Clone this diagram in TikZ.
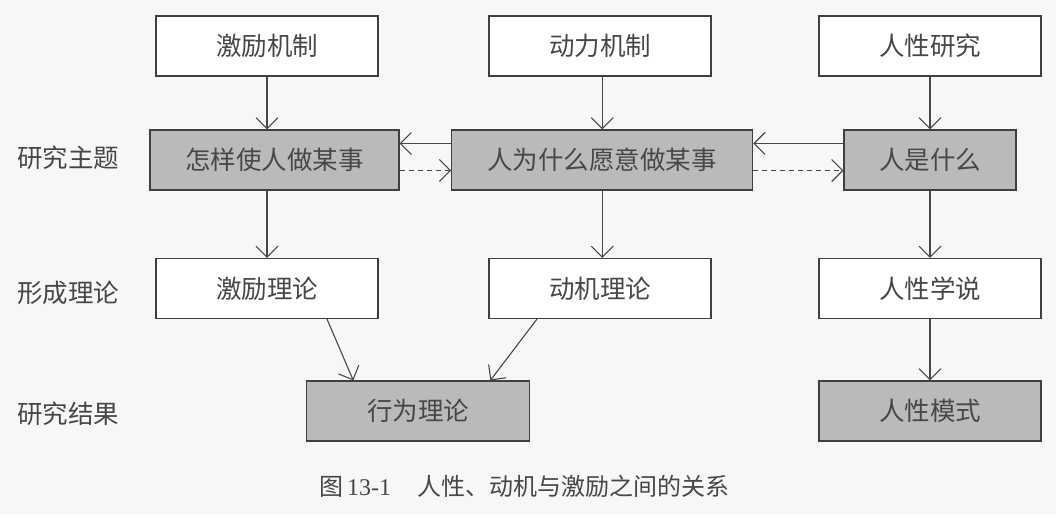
\documentclass[tikz,border=0pt]{standalone}
\usepackage{fontspec}
\setmainfont{Liberation Serif}
\newfontfamily\cjk{Noto Sans CJK SC}
\usetikzlibrary{arrows.meta}

\begin{document}
\begin{tikzpicture}[
	x=1pt, y=-1pt,
	box/.style={rectangle, draw=black!75, line width=1.1pt, fill=white, minimum width=222pt, minimum height=60pt, inner sep=0pt, font=\cjk\fontsize{25.5}{28}\selectfont, text=black!72},
	topic/.style={box, fill=black!27},
	rowlabel/.style={font=\cjk\fontsize{25.5}{28}\selectfont, text=black!72},
	arrow/.style={-{Straight Barb[length=11pt,width=22pt]}, line width=1.1pt, draw=black!72},
	hint/.style={arrow, dash pattern=on 5pt off 4pt}
]
\useasboundingbox[fill=black!3] (0,0) rectangle (1056,515);
% top row: mechanisms
\node (incmech) [box] at (267,46) {激励机制};
\node (powmech) [box] at (600,46) {动力机制};
\node (natstudy) [box] at (930,46) {人性研究};
% research topics
\node (howdo) [topic, minimum width=249pt] at (274.5,160) {怎样使人做某事};
\node (whydo) [topic, minimum width=301pt] at (602.2,160) {人为什么愿意做某事};
\node (whatman) [topic, minimum width=172pt] at (930,160) {人是什么};
% theories
\node (inctheo) [box] at (267,288.5) {激励理论};
\node (mottheo) [box] at (600,288.5) {动机理论};
\node (nattheo) [box] at (930,288.5) {人性学说};
% results
\node (behav) [topic, minimum width=223pt] at (418.3,411) {行为理论};
\node (natmode) [topic] at (930,411) {人性模式};
% row labels
\node (lbltopic) [rowlabel] at (68,158) {研究主题};
\node (lbltheo) [rowlabel] at (68,293) {形成理论};
\node (lblres) [rowlabel] at (68,414) {研究结果};
\node (caption) [font=\fontsize{24}{28}\selectfont, text=black!72] at (524,486) {{\cjk 图}\,13-1\hspace{26pt}{\cjk 人性、动机与激励之间的关系}};
% arrows
\draw [arrow] (incmech) -- (incmech |- howdo.north);
\draw [arrow] (whydo |- powmech.south) -- (whydo.north);
\draw [arrow] (natstudy) -- (natstudy |- whatman.north);
\draw [arrow] ([yshift=-14pt]whydo.north west) -- ([yshift=-14pt]howdo.north east);
\draw [hint] ([yshift=20pt]howdo.south east) -- ([yshift=20pt]whydo.south west);
\draw [arrow] ([yshift=-14pt]whatman.north west) -- ([yshift=-14pt]whydo.north east);
\draw [hint] ([yshift=20pt]whydo.south east) -- ([yshift=20pt]whatman.south west);
\draw [arrow] (inctheo |- howdo.south) -- (inctheo.north);
\draw [arrow] (whydo.south) -- (whydo |- mottheo.north);
\draw [arrow] (whatman) -- (whatman |- nattheo.north);
\draw [arrow] ([xshift=60pt]inctheo.south) -- ([xshift=-65pt]behav.north);
\draw [arrow] ([xshift=-63pt]mottheo.south) -- ([xshift=72pt]behav.north);
\draw [arrow] (nattheo) -- (natmode);
\end{tikzpicture}
\end{document}
